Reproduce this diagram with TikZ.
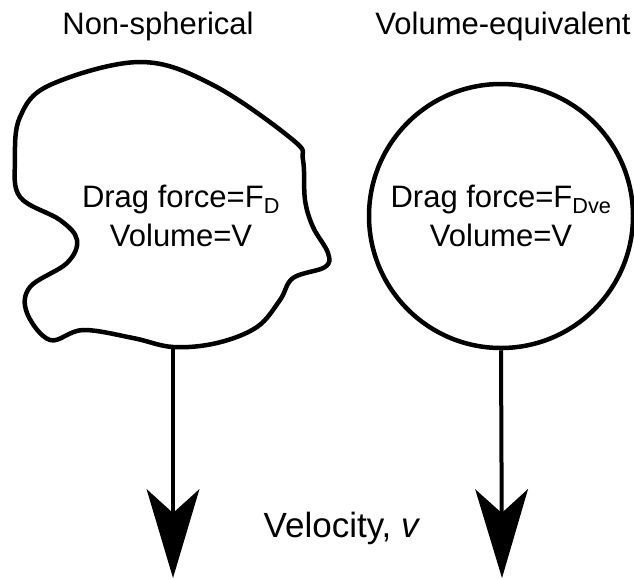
\documentclass[tikz,border=0pt]{standalone}
\usepackage{fontspec}
\setmainfont{Liberation Sans}
\usetikzlibrary{arrows.meta,positioning,calc}

\begin{document}
\begin{tikzpicture}[
  x=1pt, y=-1pt,
  caption/.style  = {font=\fontsize{31}{39}\selectfont, align=center},
  outline/.style = {line width=4.5pt, line join=round},
  particle/.style = {outline, draw, circle, minimum size=264pt,
                     inner sep=0pt, caption},
  fall/.style   = {line width=4pt,
                   -{Stealth[length=89pt, width=53pt, inset=24pt, line width=0pt]}}
]
  \useasboundingbox (0,0) rectangle (634,578);

  % Titles
  \node[caption, anchor=base] (ttlns) at (158,35) {Non-spherical};
  \node[caption, anchor=base] (ttlve) at (503,35) {Volume-equivalent};

  % Column 1: irregular particle
  \draw[outline] plot[smooth cycle, tension=0.6] coordinates {
    (50,85) (140,62) (213,85) (293,140) (303,160) (305,200) (313,227)
    (328,253) (325,267) (293,278) (280,300) (257,327) (217,343) (173,347)
    (133,338) (83,330) (50,340) (27,313) (30,287) (67,263) (77,240)
    (60,220) (20,197) (15,160) (20,117)};
  \node[caption] (txtns) at (181,216)
    {Drag force=F\textsubscript{D}\\Volume=V};
  \coordinate (blobbot) at (173,347);
  \coordinate (endns) at (173,578);

  % Column 2: equivalent sphere
  \node[particle] (sphere) at (501,216)
    {Drag force=F\textsubscript{Dve}\\Volume=V};
  \coordinate (endve) at (502,578);

  % Velocity arrows
  \draw[fall] (blobbot) -- (endns);
  \draw[fall] (sphere.south) -- (endve);
  \node[caption, anchor=base, font=\fontsize{35}{42}\selectfont] (vel)
    at (342,537) {Velocity, \textit{v}};
\end{tikzpicture}
\end{document}
